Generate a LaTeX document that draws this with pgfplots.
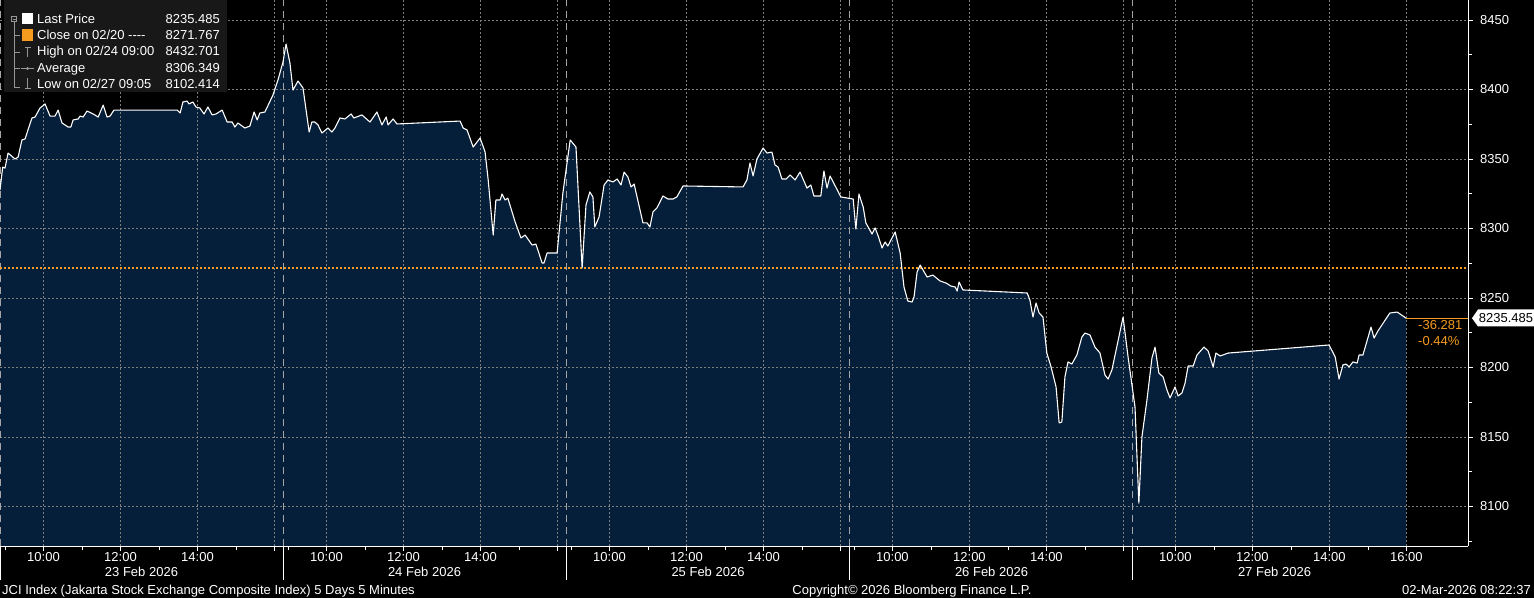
\documentclass[border=0pt]{standalone}
\usepackage{pgfplots}
\pgfplotsset{compat=1.18}
\usepackage{pgfplotstable}
\usepackage{fontspec}
\setmainfont{Liberation Sans}[Ligatures=TeXOff]
\definecolor{bbnavy}{RGB}{5,30,58}
\definecolor{bborange}{RGB}{245,155,30}
\definecolor{gridgray}{RGB}{125,125,125}
\definecolor{sepgray}{RGB}{165,165,165}
\definecolor{legbg}{RGB}{24,24,24}
\definecolor{icongray}{RGB}{150,150,150}

\pgfplotstableread{
x y
0.00 8327.7
0.07 8344.2
0.13 8343.5
0.21 8354.3
0.39 8350.0
0.47 8351.4
0.57 8363.7
0.65 8364.4
0.83 8379.5
0.91 8380.2
1.04 8386.7
1.17 8389.6
1.30 8380.9
1.43 8380.9
1.51 8385.2
1.61 8375.9
1.77 8373.0
1.84 8373.0
1.90 8378.1
2.03 8378.8
2.08 8380.9
2.16 8380.2
2.26 8384.5
2.42 8382.4
2.55 8380.2
2.68 8388.8
2.78 8380.2
2.86 8380.9
2.96 8385.2
4.60 8385.2
4.68 8383.1
4.75 8391.0
4.86 8391.7
4.91 8389.6
5.01 8391.0
5.09 8387.4
5.19 8386.7
5.30 8382.4
5.40 8387.4
5.51 8381.7
5.61 8382.4
5.77 8385.2
5.90 8376.6
6.03 8376.6
6.10 8373.0
6.18 8375.9
6.36 8372.3
6.49 8373.7
6.60 8383.8
6.68 8378.1
6.75 8383.1
6.88 8383.8
7.09 8396.0
7.22 8406.8
7.35 8419.8
7.43 8432.7
7.53 8419.1
7.61 8399.6
7.74 8406.1
7.87 8401.1
8.03 8369.4
8.10 8376.6
8.18 8376.6
8.26 8374.5
8.36 8368.7
8.52 8372.3
8.62 8369.4
8.70 8372.3
8.83 8379.5
8.96 8378.8
9.12 8382.4
9.19 8379.5
9.40 8381.7
9.61 8376.6
9.79 8383.8
9.92 8374.5
10.03 8380.2
10.08 8374.5
10.21 8378.8
10.31 8375.2
11.95 8377.3
12.03 8372.3
12.13 8370.9
12.29 8358.6
12.47 8365.1
12.60 8355.0
12.68 8334.9
12.81 8295.3
12.88 8320.5
12.99 8320.5
13.04 8324.8
13.12 8320.5
13.19 8321.9
13.38 8304.7
13.53 8293.2
13.64 8295.3
13.82 8288.1
13.92 8288.8
14.08 8275.2
14.13 8275.2
14.21 8282.4
14.47 8282.4
14.62 8325.5
14.81 8363.7
14.96 8358.6
15.12 8271.6
15.22 8316.9
15.32 8326.3
15.40 8322.7
15.45 8301.1
15.56 8308.3
15.69 8331.3
15.79 8334.9
15.92 8333.5
16.03 8335.6
16.13 8331.3
16.21 8340.6
16.31 8337.0
16.39 8329.9
16.47 8332.0
16.70 8304.0
16.81 8304.0
16.88 8301.1
16.96 8311.9
17.06 8314.7
17.22 8323.4
17.35 8321.2
17.48 8321.2
17.58 8322.7
17.74 8330.6
19.30 8329.9
19.40 8334.9
19.48 8347.1
19.56 8337.8
19.66 8350.0
19.82 8357.9
19.92 8354.3
20.05 8355.0
20.13 8345.7
20.21 8344.2
20.31 8335.6
20.42 8335.6
20.52 8338.5
20.65 8334.9
20.78 8340.6
20.96 8329.1
21.06 8331.3
21.14 8323.4
21.32 8323.4
21.40 8341.4
21.48 8329.1
21.56 8337.8
21.84 8322.7
22.16 8321.2
22.23 8299.6
22.31 8324.8
22.42 8315.5
22.49 8304.0
22.65 8296.0
22.73 8300.4
22.81 8294.6
22.91 8286.0
22.99 8290.3
23.06 8287.4
23.25 8297.5
23.38 8282.4
23.48 8257.9
23.58 8247.8
23.69 8247.1
23.74 8250.7
23.82 8268.7
23.90 8273.7
24.08 8265.1
24.23 8266.5
24.42 8262.2
24.57 8260.8
24.70 8258.6
24.81 8257.9
24.86 8255.0
24.91 8261.5
25.01 8255.8
26.68 8253.6
26.75 8248.6
26.83 8236.3
26.91 8246.4
26.99 8239.2
27.09 8236.3
27.19 8210.4
27.30 8200.4
27.43 8186.0
27.51 8160.1
27.58 8160.8
27.66 8193.2
27.74 8204.0
27.84 8202.5
27.97 8209.0
28.10 8221.9
28.18 8224.8
28.31 8223.4
28.44 8214.7
28.57 8210.4
28.70 8194.6
28.78 8191.7
28.88 8198.2
29.17 8236.3
29.30 8207.6
29.48 8171.6
29.58 8102.4
29.66 8150.0
29.79 8176.6
29.92 8206.8
30.00 8214.7
30.10 8196.0
30.21 8193.2
30.31 8183.8
30.39 8178.1
30.52 8186.0
30.60 8179.5
30.70 8181.7
30.78 8188.8
30.86 8201.1
30.99 8201.1
31.09 8209.0
31.27 8214.7
31.38 8211.9
31.51 8200.4
31.58 8210.4
31.69 8208.3
31.90 8210.4
34.52 8216.2
34.68 8207.6
34.78 8191.7
34.88 8201.8
34.96 8202.5
35.04 8200.4
35.14 8204.0
35.25 8203.2
35.30 8209.0
35.40 8209.0
35.61 8229.1
35.69 8221.2
35.79 8226.3
36.10 8239.2
36.29 8239.9
36.52 8235.5
}\jci

\begin{document}
\begin{tikzpicture}[x=1bp, y=1bp, font=\fontsize{13bp}{15bp}\selectfont]
\useasboundingbox (0,0) rectangle (1534,598);
\fill[black] (0,0) rectangle (1534,598);

% ---- axis with fill, grid, ticks ----
\begin{axis}[
  at={(0bp,52bp)}, anchor=south west,
  width=1468bp, height=546bp, scale only axis,
  xmin=0, xmax=38.13, ymin=8071.6, ymax=8464.4,
  axis on top,
  axis x line=bottom, axis y line=right,
  axis line style={white, line width=0.8bp, -},
  xtick={1.13,3.13,5.13,7.13,8.48,10.48,12.48,14.48,15.83,17.83,19.83,21.83,23.18,25.18,27.18,29.18,30.53,32.53,34.53,36.53},
  xticklabels={10:00,12:00,14:00,{},10:00,12:00,14:00,{},10:00,12:00,14:00,{},10:00,12:00,14:00,{},10:00,12:00,14:00,16:00},
  minor xtick={0.13,2.13,4.13,6.13,7.48,9.48,11.48,13.48,14.83,16.83,18.83,20.83,22.18,24.18,26.18,28.18,29.53,31.53,33.53,35.53},
  extra x ticks={0,7.35,14.7,22.05,29.4},
  extra x tick labels={},
  extra x tick style={major tick length=34bp, grid=major,
     major grid style={draw=sepgray, dash pattern=on 7bp off 5bp, line width=0.8bp}},
  ytick={8100,8150,8200,8250,8300,8350,8400,8450},
  yticklabels={8100,8150,8200,8250,8300,8350,8400,8450},
  minor ytick={8075,8125,8175,8225,8275,8325,8375,8425},
  grid=major,
  major grid style={draw=gridgray, dash pattern=on 1.5bp off 2.5bp, line width=0.7bp},
  tick align=outside,
  major tick length=5bp, minor tick length=4bp,
  tick style={white, line width=0.8bp},
  xticklabel style={white, font=\fontsize{13bp}{15bp}\selectfont, anchor=base, inner sep=0pt, yshift=-10.3bp},
  yticklabel style={white, font=\fontsize{13bp}{15bp}\selectfont, anchor=west, inner sep=0pt, xshift=7bp},
]
\addplot[draw=none, fill=bbnavy] table {\jci} \closedcycle;
\end{axis}

% ---- overlay axis with the lines ----
\begin{axis}[
  at={(0bp,52bp)}, anchor=south west,
  width=1468bp, height=546bp, scale only axis,
  xmin=0, xmax=38.13, ymin=8071.6, ymax=8464.4,
  hide axis,
]
\addplot[bborange, line width=1.6bp, dash pattern=on 1.6bp off 2.4bp] coordinates {(0,8271.767) (38.13,8271.767)};
\addplot[bborange, line width=1bp] coordinates {(36.52,8235.485) (38.13,8235.485)};
\addplot[white, line width=1.1bp, line join=round] table {\jci};
\end{axis}

% ---- last price tag ----
\fill[white] (1472,279.8) -- (1478,288.5) -- (1534,288.5) -- (1534,271.5) -- (1478,271.5) -- cycle;
\node[anchor=base, black, inner sep=0] at (1506,275.3) {8235.485};
\node[anchor=base west, bborange, inner sep=0] at (1418,268) {-36.281};
\node[anchor=base west, bborange, inner sep=0] at (1418,252) {-0.44\%};

% ---- day labels ----
\node[anchor=base, white, inner sep=0] at (141.5,21.7) {23 Feb 2026};
\node[anchor=base, white, inner sep=0] at (424.5,21.7) {24 Feb 2026};
\node[anchor=base, white, inner sep=0] at (708,21.7) {25 Feb 2026};
\node[anchor=base, white, inner sep=0] at (991.5,21.7) {26 Feb 2026};
\node[anchor=base, white, inner sep=0] at (1274.5,21.7) {27 Feb 2026};

% ---- footer ----
\node[anchor=base west, white, inner sep=0] at (2,3.7) {JCI Index (Jakarta Stock Exchange Composite Index) 5 Days 5 Minutes};
\node[anchor=base, white, inner sep=0] at (912,3.7) {Copyright© 2026 Bloomberg Finance L.P.};
\node[anchor=base east, white, inner sep=0] at (1531,3.7) {02-Mar-2026 08:22:37};

% ---- legend ----
\fill[legbg] (4,506) rectangle (227,598);
\draw[icongray, line width=0.6bp] (11.5,576.5) rectangle (16.5,581.5);
\draw[icongray, line width=0.6bp] (12.5,579) -- (15.5,579);
\draw[icongray, line width=0.6bp] (14,576.5) -- (14,511) -- (20,511);
\draw[icongray, line width=0.6bp] (14,562.5) -- (20,562.5) (14,546) -- (20,546) (14,529.5) -- (20,529.5);
\fill[white] (22,573.5) rectangle (33,585);
\fill[bborange] (22,557) rectangle (33,568.5);
\draw[icongray, line width=0.8bp] (27.5,541) -- (27.5,551) (24.5,551) -- (30.5,551);
\draw[icongray, line width=0.8bp] (21,529.5) -- (34,529.5);
\fill[icongray] (27.5,529.5) circle (1.6);
\draw[icongray, line width=0.8bp] (27.5,519.5) -- (27.5,509.5) (24.5,509.5) -- (30.5,509.5);
\node[anchor=base west, white, inner sep=0] at (37,574.5) {Last Price};
\node[anchor=base east, white, inner sep=0] at (220,574.5) {8235.485};
\node[anchor=base west, white, inner sep=0] at (37,558) {Close on 02/20 ----};
\node[anchor=base east, white, inner sep=0] at (220,558) {8271.767};
\node[anchor=base west, white, inner sep=0] at (37,542) {High on 02/24 09:00};
\node[anchor=base east, white, inner sep=0] at (220,542) {8432.701};
\node[anchor=base west, white, inner sep=0] at (37,525.5) {Average};
\node[anchor=base east, white, inner sep=0] at (220,525.5) {8306.349};
\node[anchor=base west, white, inner sep=0] at (37,509.5) {Low on 02/27 09:05};
\node[anchor=base east, white, inner sep=0] at (220,509.5) {8102.414};
\end{tikzpicture}
\end{document}
